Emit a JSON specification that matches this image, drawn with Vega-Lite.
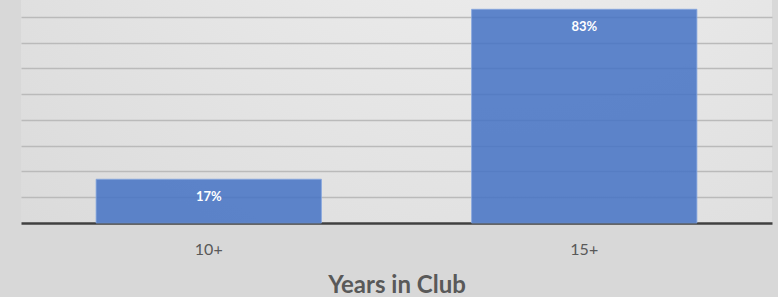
{
  "$schema": "https://vega.github.io/schema/vega-lite/v6.json",
  "width": 751,
  "height": 223,
  "autosize": {"type": "none"},
  "padding": {"left": 21, "top": 0, "right": 6, "bottom": 74},
  "background": "#d8d8d8",
  "view": {
    "stroke": null,
    "fill": {
      "gradient": "radial",
      "x1": 0.65, "y1": 0.0, "r1": 0,
      "x2": 0.65, "y2": 0.0, "r2": 1.1,
      "stops": [
        {"offset": 0, "color": "#f3f3f3"},
        {"offset": 1, "color": "#d6d6d6"}
      ]
    }
  },
  "data": {
    "values": [
      {"years": "10+", "share": 0.17, "label": "17%"},
      {"years": "15+", "share": 0.83, "label": "83%"}
    ]
  },
  "encoding": {
    "x": {
      "field": "years",
      "type": "nominal",
      "sort": null,
      "scale": {"paddingInner": 0.4, "paddingOuter": 0.2},
      "axis": {
        "title": "Years in Club",
        "titleFont": "Lato",
        "titleFontSize": 24,
        "titleFontWeight": "bold",
        "titleColor": "#595959",
        "titlePadding": 16,
        "labelFont": "Lato",
        "labelFontSize": 16,
        "labelColor": "#595959",
        "labelAngle": 0,
        "labelPadding": 18,
        "ticks": false,
        "domainColor": "#404040",
        "domainWidth": 2.5,
        "grid": false
      }
    },
    "y": {
      "field": "share",
      "type": "quantitative",
      "scale": {"domain": [0, 0.866], "nice": false, "zero": true},
      "axis": {
        "title": null,
        "labels": false,
        "ticks": false,
        "domain": false,
        "grid": true,
        "values": [0.1, 0.2, 0.3, 0.4, 0.5, 0.6, 0.7, 0.8],
        "gridColor": "#bababa",
        "gridWidth": 1.5
      }
    }
  },
  "layer": [
    {
      "mark": {"type": "bar", "fill": "#4472C4", "fillOpacity": 0.85, "stroke": "#86a6de", "strokeWidth": 1, "strokeOpacity": 0.8}
    },
    {
      "mark": {"type": "text", "baseline": "top", "dy": 12, "font": "Lato", "fontSize": 13, "fontWeight": "bold", "color": "#ffffff"},
      "encoding": {"text": {"field": "label"}}
    }
  ]
}
